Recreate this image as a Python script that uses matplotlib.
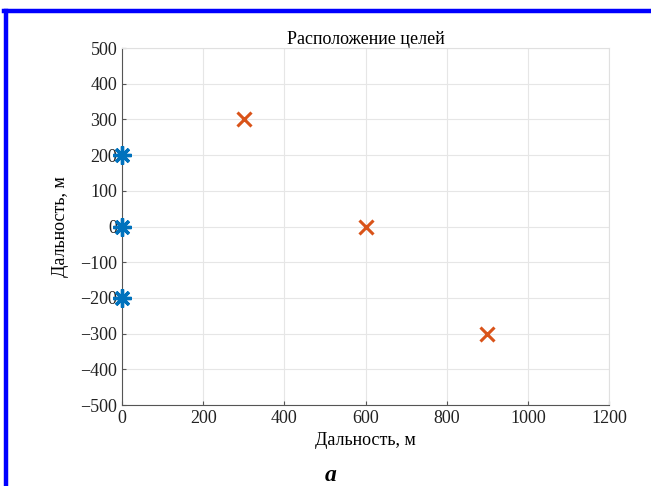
import matplotlib
matplotlib.use("Agg")
import matplotlib.pyplot as plt
from matplotlib.lines import Line2D

# Data
recv_x = [0, 0, 0]
recv_y = [200, 0, -200]
target_x = [300, 600, 900]
target_y = [300, 0, -300]
xticks = [0, 200, 400, 600, 800, 1000, 1200]
yticks = [-500, -400, -300, -200, -100, 0, 100, 200, 300, 400, 500]

plt.rcParams['font.family'] = ['Liberation Serif', 'DejaVu Serif']

fig = plt.figure(figsize=(6.51, 4.86), dpi=100)
ax = fig.add_axes([122/651, 1-405/486, (609-122)/651, (405-48)/486])

ax.plot(recv_x, recv_y, linestyle='none', marker=(8, 2, 0), markersize=13,
        markeredgewidth=2.4, color='#0072BD', clip_on=False, zorder=5)
ax.plot(target_x, target_y, linestyle='none', marker='x', markersize=10,
        markeredgewidth=2.2, color='#D95319', zorder=5)

ax.set_xlim(0, 1200)
ax.set_ylim(-500, 500)
ax.set_xticks(xticks)
ax.set_yticks(yticks)
ax.grid(True, color='#e6e6e6', linewidth=0.8)
ax.set_axisbelow(True)
for s in ['top', 'right']:
    ax.spines[s].set_color('#e0e0e0')
for s in ['left', 'bottom']:
    ax.spines[s].set_color('#555555')
ax.tick_params(direction='in', length=3, colors='#555555', labelcolor='#222222', labelsize=13)

ax.set_title('Расположение целей', fontsize=13, pad=3)
ax.set_xlabel('Дальность, м', fontsize=13, labelpad=4)
ax.set_ylabel('Дальность, м', fontsize=13, labelpad=8)

fig.text(331/651, 1-475/486, 'a', fontsize=17, fontweight='bold', fontstyle='italic',
         ha='center', va='center')

# blue frame
fig.add_artist(Line2D([4/651, 1], [1-11/486, 1-11/486], color='#0000ff', linewidth=3.2,
                      transform=fig.transFigure))
fig.add_artist(Line2D([5.5/651, 5.5/651], [0, 1-11/486], color='#0000ff', linewidth=3.2,
                      transform=fig.transFigure))

fig.savefig('out.png', dpi=100)
